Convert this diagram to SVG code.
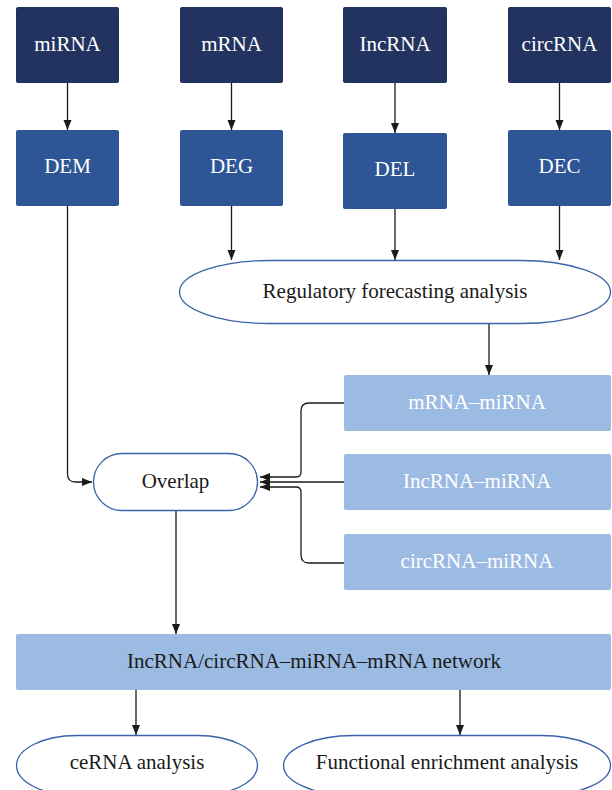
<svg xmlns="http://www.w3.org/2000/svg" width="612" height="790" viewBox="0 0 612 790">
<style>
text{font-family:"Liberation Serif","DejaVu Serif",serif;font-size:21px;text-anchor:middle;dominant-baseline:central}
.dark{fill:#22335F}
.mid{fill:#2E5595}
.light{fill:#9BBBE3}
.wt{fill:#FFFFFF}
.bk{fill:#1A1A1A}
.oval{fill:#FFFFFF;stroke:#3A62A8;stroke-width:1.3}
.ln{fill:none;stroke:#1A1A1A;stroke-width:1.3}
</style>
<defs>
<marker id="ah" viewBox="0 0 10 10" refX="10" refY="5" markerWidth="10" markerHeight="10" markerUnits="userSpaceOnUse" orient="auto">
<path d="M0,1 L10,5 L0,9 Z" fill="#1A1A1A"/>
</marker>
</defs>
<g id="connectors">
<path class="ln" d="M67.5,83 V130" marker-end="url(#ah)"/>
<path class="ln" d="M231.5,83 V130" marker-end="url(#ah)"/>
<path class="ln" d="M395,83 V133" marker-end="url(#ah)"/>
<path class="ln" d="M559.5,83 V130" marker-end="url(#ah)"/>
<path class="ln" d="M231.5,206 V260" marker-end="url(#ah)"/>
<path class="ln" d="M395,209 V260" marker-end="url(#ah)"/>
<path class="ln" d="M559.5,206 V260" marker-end="url(#ah)"/>
<path class="ln" d="M489,324 V375" marker-end="url(#ah)"/>
<path class="ln" d="M67.5,206 V474 Q67.5,482 75.5,482 H92" marker-end="url(#ah)"/>
<path class="ln" d="M344,403 H309 Q301,403 301,411 V472 Q301,477 296,477 H260" marker-end="url(#ah)"/>
<path class="ln" d="M344,482 H260" marker-end="url(#ah)"/>
<path class="ln" d="M344,563 H309 Q301,563 301,555 V492 Q301,487 296,487 H260" marker-end="url(#ah)"/>
<path class="ln" d="M176,511 V634" marker-end="url(#ah)"/>
<path class="ln" d="M136,690 V735" marker-end="url(#ah)"/>
<path class="ln" d="M460,690 V735" marker-end="url(#ah)"/>
</g>
<g id="n-mirna"><rect class="dark" x="16" y="7" width="103" height="76" rx="2"/><text class="wt" x="67.5" y="44">miRNA</text></g>
<g id="n-mrna"><rect class="dark" x="180" y="7" width="103" height="76" rx="2"/><text class="wt" x="231.5" y="44">mRNA</text></g>
<g id="n-lncrna"><rect class="dark" x="343" y="7" width="104" height="76" rx="2"/><text class="wt" x="395" y="44">IncRNA</text></g>
<g id="n-circrna"><rect class="dark" x="508" y="7" width="103" height="76" rx="2"/><text class="wt" x="559.5" y="44">circRNA</text></g>
<g id="n-dem"><rect class="mid" x="16" y="130" width="103" height="76" rx="2"/><text class="wt" x="67.5" y="166">DEM</text></g>
<g id="n-deg"><rect class="mid" x="180" y="130" width="103" height="76" rx="2"/><text class="wt" x="231.5" y="166">DEG</text></g>
<g id="n-del"><rect class="mid" x="343" y="133" width="104" height="76" rx="2"/><text class="wt" x="395" y="169">DEL</text></g>
<g id="n-dec"><rect class="mid" x="508" y="130" width="103" height="76" rx="2"/><text class="wt" x="559.5" y="166">DEC</text></g>
<g id="n-regulatory"><rect class="oval" x="179.5" y="260.5" width="431" height="63" rx="90" ry="31.5"/><text class="bk" x="395" y="291">Regulatory forecasting analysis</text></g>
<g id="n-mrna-mirna"><rect class="light" x="344" y="375" width="267" height="56" rx="2"/><text class="wt" x="477" y="402">mRNA–miRNA</text></g>
<g id="n-lncrna-mirna"><rect class="light" x="344" y="454" width="267" height="56" rx="2"/><text class="wt" x="477" y="481">IncRNA–miRNA</text></g>
<g id="n-circrna-mirna"><rect class="light" x="344" y="534" width="267" height="56" rx="2"/><text class="wt" x="477" y="561">circRNA–miRNA</text></g>
<g id="n-overlap"><rect class="oval" x="93.5" y="453.5" width="164" height="57" rx="28.5"/><text class="bk" x="175.5" y="481">Overlap</text></g>
<g id="n-network"><rect class="light" x="16" y="634" width="595" height="56" rx="2"/><text class="bk" x="314" y="661">IncRNA/circRNA–miRNA–mRNA network</text></g>
<g id="n-cerna"><rect class="oval" x="16.5" y="735.5" width="241" height="60" rx="60" ry="30"/><text class="bk" x="137" y="762">ceRNA analysis</text></g>
<g id="n-functional"><rect class="oval" x="283.5" y="735.5" width="327" height="60" rx="70" ry="30"/><text class="bk" x="447" y="762">Functional enrichment analysis</text></g>
</svg>
